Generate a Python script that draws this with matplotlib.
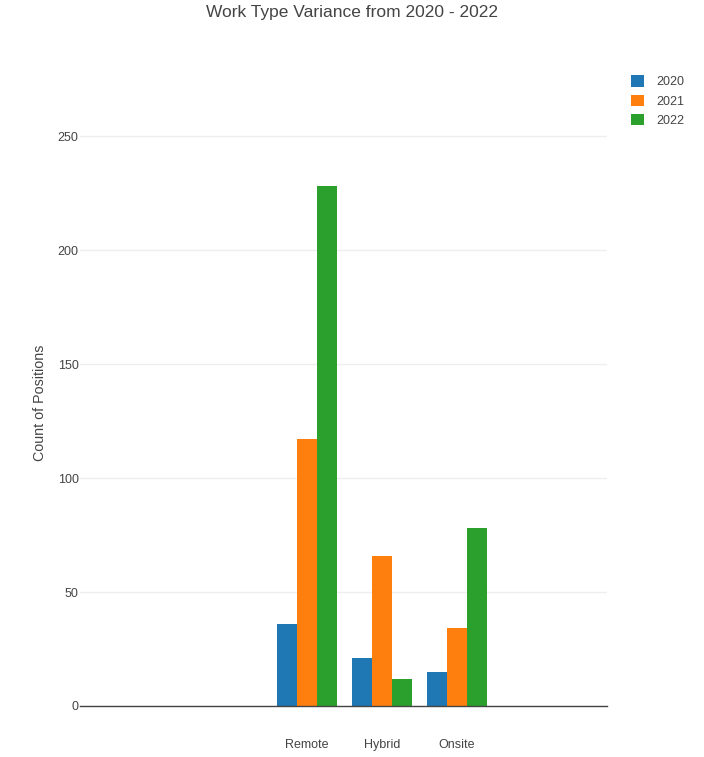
import matplotlib
matplotlib.use("Agg")
import matplotlib.pyplot as plt
import numpy as np

categories = ["Remote", "Hybrid", "Onsite"]
years = ["2020", "2021", "2022"]
values_2020 = [36, 21, 15]
values_2021 = [117, 66, 34]
values_2022 = [228, 12, 78]
colors = ["#1f77b4", "#ff7f0e", "#2ca02c"]
yticks = [0, 50, 100, 150, 200, 250]

plt.rcParams['font.family'] = ['Liberation Sans', 'DejaVu Sans']

W, H = 704, 757
fig = plt.figure(figsize=(W / 100, H / 100), dpi=100)
left, right, top, bottom = 80, 607, 100, 706
ax = fig.add_axes([left / W, 1 - bottom / H, (right - left) / W, (bottom - top) / H])

x = np.arange(len(categories))
series = [values_2020, values_2021, values_2022]
bw = 0.8 / 3
for i, (vals, c, yr) in enumerate(zip(series, colors, years)):
    ax.bar(x + (i - 1) * bw, vals, width=bw, color=c, label=yr, zorder=3, linewidth=0)

ax.set_xlim(-3.03, 4.0)
ax.set_ylim(0, 265.8)
ax.set_yticks(yticks)
ax.set_xticks(x)
ax.set_xticklabels(categories)
ax.tick_params(axis='both', length=0, colors='#444444', labelsize=9)
ax.tick_params(axis='x', pad=24)
ax.tick_params(axis='y', pad=1)
ax.grid(axis='y', color='#eeeeee', linewidth=1, zorder=0)
for s in ['top', 'right', 'left']:
    ax.spines[s].set_visible(False)
ax.spines['bottom'].set_color('#444444')
ax.spines['bottom'].set_linewidth(1)
ax.spines['bottom'].set_zorder(4)
ax.set_ylabel("Count of Positions", color='#444444', fontsize=10.3, labelpad=8)

fig.text(0.5, 1 - 12 / H, "Work Type Variance from 2020 - 2022", ha='center', va='center',
         fontsize=12.5, color='#444444')

leg = ax.legend(loc='upper left', bbox_to_anchor=(620 / W, 1 - 64 / H), bbox_transform=fig.transFigure,
                frameon=False, fontsize=9, handlelength=1.05, handleheight=1.05,
                handletextpad=0.95, labelspacing=0.5)
for t in leg.get_texts():
    t.set_color('#444444')

fig.savefig("out.png", dpi=100)
